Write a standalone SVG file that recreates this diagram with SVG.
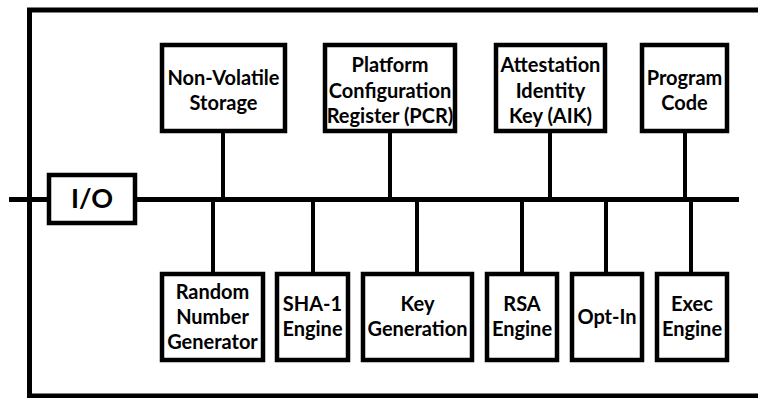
<svg xmlns="http://www.w3.org/2000/svg" width="758" height="398" viewBox="0 0 758 398">
<style>
  .box { fill: #ffffff; stroke: #000000; stroke-width: 4.5; }
  .wire { fill: none; stroke: #000000; stroke-width: 4; }
  .bus { fill: none; stroke: #000000; stroke-width: 5; }
  .frame { fill: none; stroke: #000000; stroke-width: 5; }
  text { font-family: "Lato", "Open Sans", "Liberation Sans", sans-serif; font-weight: bold; font-size: 20px; fill: #000000; text-anchor: middle; }
  .io { font-size: 27px; }
</style>
<rect x="0" y="0" width="758" height="398" fill="#ffffff"/>
<path class="frame" d="M758 10 H29.5 V396 H758"/>
<g id="connectors">
  <line class="bus" x1="9" y1="199.5" x2="739" y2="199.5"/>
  <line class="wire" x1="223" y1="133" x2="223" y2="199"/>
  <line class="wire" x1="390" y1="133" x2="390" y2="199"/>
  <line class="wire" x1="550" y1="133" x2="550" y2="199"/>
  <line class="wire" x1="685" y1="133" x2="685" y2="199"/>
  <line class="wire" x1="213" y1="200" x2="213" y2="272"/>
  <line class="wire" x1="313" y1="200" x2="313" y2="272"/>
  <line class="wire" x1="417" y1="200" x2="417" y2="272"/>
  <line class="wire" x1="522" y1="200" x2="522" y2="272"/>
  <line class="wire" x1="606" y1="200" x2="606" y2="272"/>
  <line class="wire" x1="691" y1="200" x2="691" y2="272"/>
</g>
<g id="io">
  <rect class="box" x="49" y="175" width="86" height="48"/>
  <text class="io" x="92" y="208">I/O</text>
</g>
<g id="nvs">
  <rect class="box" x="162" y="45" width="123" height="86"/>
  <text x="223.5" y="85">Non-Volatile</text>
  <text x="223.5" y="110">Storage</text>
</g>
<g id="pcr">
  <rect class="box" x="325" y="45" width="130" height="86"/>
  <text x="390" y="72">Platform</text>
  <text x="390" y="97.5">Configuration</text>
  <text x="390" y="123">Register (PCR)</text>
</g>
<g id="aik">
  <rect class="box" x="496" y="45" width="109" height="86"/>
  <text x="550.5" y="72">Attestation</text>
  <text x="550.5" y="97.5">Identity</text>
  <text x="550.5" y="123">Key (AIK)</text>
</g>
<g id="program">
  <rect class="box" x="642" y="45" width="85" height="86"/>
  <text x="684.5" y="85">Program</text>
  <text x="684.5" y="110">Code</text>
</g>
<g id="rng">
  <rect class="box" x="162" y="274" width="101" height="86"/>
  <text x="212.5" y="299">Random</text>
  <text x="212.5" y="324">Number</text>
  <text x="212.5" y="349">Generator</text>
</g>
<g id="sha1">
  <rect class="box" x="277" y="274" width="71" height="86"/>
  <text x="312.5" y="311">SHA-1</text>
  <text x="312.5" y="336">Engine</text>
</g>
<g id="keygen">
  <rect class="box" x="363" y="274" width="109" height="86"/>
  <text x="417.5" y="311">Key</text>
  <text x="417.5" y="336">Generation</text>
</g>
<g id="rsa">
  <rect class="box" x="487" y="274" width="70" height="86"/>
  <text x="522" y="311">RSA</text>
  <text x="522" y="336">Engine</text>
</g>
<g id="optin">
  <rect class="box" x="572" y="274" width="70" height="86"/>
  <text x="607" y="324">Opt-In</text>
</g>
<g id="exec">
  <rect class="box" x="657" y="274" width="70" height="86"/>
  <text x="692" y="311">Exec</text>
  <text x="692" y="336">Engine</text>
</g>
</svg>
